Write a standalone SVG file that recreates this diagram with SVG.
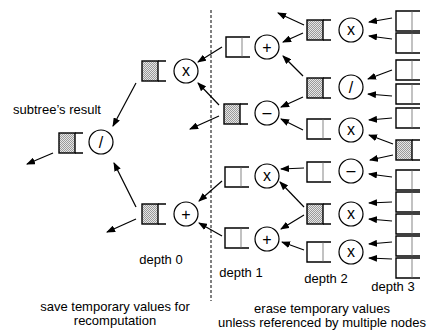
<svg xmlns="http://www.w3.org/2000/svg" xmlns:xlink="http://www.w3.org/1999/xlink" width="431" height="331" viewBox="0 0 431 331">
<style>
.t{font-family:"Liberation Sans",Arial,sans-serif;font-size:13px;fill:#000;text-anchor:middle}
.op{font-family:"Liberation Sans",Arial,sans-serif;font-size:16px;fill:#000;text-anchor:middle}
.c{fill:#fff;stroke:#000;stroke-width:1.2}
.ed{fill:none;stroke:#000;stroke-width:1.4}
.dv{stroke:#999;stroke-width:1.2}
.fl{fill:url(#stip);stroke:#000;stroke-width:1.4}
#conn line{stroke:#000;stroke-width:1.2;marker-end:url(#ah)}
</style>
<defs>
<pattern id="stip" width="2" height="2" patternUnits="userSpaceOnUse">
<rect width="2" height="2" fill="#e6e6e6"/>
<rect width="1" height="1" fill="#9a9a9a"/>
<rect x="1" y="1" width="1" height="1" fill="#9a9a9a"/>
</pattern>
<marker id="ah" markerWidth="9" markerHeight="7" refX="8" refY="3.5" orient="auto" markerUnits="userSpaceOnUse">
<path d="M0,0 L9,3.5 L0,7 z" fill="#000"/>
</marker>
<g id="bE"><path class="ed" d="M24,0 H0 V20 H24"/><line class="dv" x1="16" y1="0.7" x2="16" y2="19.3"/></g>
<g id="bF"><rect class="fl" x="0" y="0" width="16" height="20"/><path class="ed" d="M16,0 H24 M16,20 H24"/></g>
</defs>
<rect width="431" height="331" fill="#fff"/>
<line x1="211" y1="10" x2="211" y2="301" stroke="#000" stroke-width="1" stroke-dasharray="3,2"/>

<g id="conn">
<line x1="53" y1="153" x2="27" y2="164"/>
<line x1="136" y1="83" x2="113" y2="126"/>
<line x1="136" y1="207" x2="114" y2="163"/>
<line x1="136" y1="219" x2="107" y2="232"/>
<line x1="222" y1="47" x2="198" y2="62"/>
<line x1="219" y1="105" x2="198" y2="83"/>
<line x1="219" y1="116" x2="190" y2="129"/>
<line x1="222" y1="181" x2="199" y2="201"/>
<line x1="222" y1="236" x2="199" y2="223"/>
<line x1="304" y1="25" x2="278" y2="13"/>
<line x1="303" y1="33" x2="283" y2="42"/>
<line x1="303" y1="76" x2="283" y2="56"/>
<line x1="303" y1="97" x2="281" y2="107"/>
<line x1="303" y1="130" x2="281" y2="119"/>
<line x1="304" y1="168" x2="281" y2="169"/>
<line x1="304" y1="207" x2="280" y2="182"/>
<line x1="304" y1="215" x2="281" y2="229"/>
<line x1="304" y1="250" x2="282" y2="242"/>
<line x1="392" y1="18" x2="369" y2="22"/>
<line x1="392" y1="39" x2="369" y2="36"/>
<line x1="392" y1="70" x2="368" y2="79"/>
<line x1="392" y1="96" x2="368" y2="94"/>
<line x1="392" y1="118" x2="369" y2="120"/>
<line x1="393" y1="144" x2="369" y2="135"/>
<line x1="393" y1="155" x2="370" y2="160"/>
<line x1="392" y1="177" x2="369" y2="174"/>
<line x1="392" y1="202" x2="369" y2="203"/>
<line x1="392" y1="221" x2="369" y2="219"/>
<line x1="392" y1="242" x2="369" y2="244"/>
<line x1="392" y1="259" x2="369" y2="258"/>
</g>

<g id="d0-div"><use xlink:href="#bF" x="59" y="133"/><circle class="c" cx="101" cy="142" r="12"/><text class="op" x="101" y="148">/</text></g>
<g id="d0-mul"><use xlink:href="#bF" x="142" y="61"/><circle class="c" cx="186" cy="71" r="12"/><text class="op" x="186" y="76">x</text></g>
<g id="d0-add"><use xlink:href="#bF" x="142" y="204"/><circle class="c" cx="186" cy="214" r="12"/><text class="op" x="186" y="219.5">+</text></g>

<g id="d1-add1"><use xlink:href="#bE" x="226" y="37"/><circle class="c" cx="267" cy="47" r="12"/><text class="op" x="267" y="52.5">+</text></g>
<g id="d1-sub"><use xlink:href="#bF" x="224" y="104"/><circle class="c" cx="267" cy="113" r="12"/><text class="op" x="267" y="118">–</text></g>
<g id="d1-mul"><use xlink:href="#bE" x="225" y="167"/><circle class="c" cx="267" cy="176" r="12"/><text class="op" x="267" y="181">x</text></g>
<g id="d1-add2"><use xlink:href="#bE" x="225" y="228"/><circle class="c" cx="267" cy="239" r="12"/><text class="op" x="267" y="244.5">+</text></g>

<g id="d2-mul1"><use xlink:href="#bF" x="307" y="20"/><circle class="c" cx="351" cy="30" r="12"/><text class="op" x="351" y="35">x</text></g>
<g id="d2-div"><use xlink:href="#bF" x="307" y="78"/><circle class="c" cx="351" cy="87" r="12"/><text class="op" x="351" y="93">/</text></g>
<g id="d2-mul2"><use xlink:href="#bE" x="307" y="119"/><circle class="c" cx="351" cy="130" r="12"/><text class="op" x="351" y="135">x</text></g>
<g id="d2-sub"><use xlink:href="#bE" x="307" y="162"/><circle class="c" cx="351" cy="171" r="12"/><text class="op" x="351" y="176">–</text></g>
<g id="d2-mul3"><use xlink:href="#bF" x="307" y="204"/><circle class="c" cx="351" cy="214" r="12"/><text class="op" x="351" y="219">x</text></g>
<g id="d2-mul4"><use xlink:href="#bE" x="307" y="242"/><circle class="c" cx="351" cy="252" r="12"/><text class="op" x="351" y="257">x</text></g>

<g id="d3-1"><use xlink:href="#bE" x="396" y="11"/></g>
<g id="d3-2"><use xlink:href="#bE" x="396" y="33"/></g>
<g id="d3-3"><use xlink:href="#bE" x="396" y="60"/></g>
<g id="d3-4"><use xlink:href="#bE" x="396" y="84"/></g>
<g id="d3-5"><use xlink:href="#bE" x="396" y="108"/></g>
<g id="d3-6"><use xlink:href="#bF" x="396" y="140"/></g>
<g id="d3-7"><use xlink:href="#bE" x="396" y="170"/></g>
<g id="d3-8"><use xlink:href="#bE" x="396" y="192"/></g>
<g id="d3-9"><use xlink:href="#bE" x="396" y="214"/></g>
<g id="d3-10"><use xlink:href="#bE" x="396" y="236"/></g>
<g id="d3-11"><use xlink:href="#bE" x="396" y="258"/></g>

<g id="labels">
<text class="t" x="57" y="114">subtree’s result</text>
<text class="t" x="161" y="264">depth 0</text>
<text class="t" x="241" y="277">depth 1</text>
<text class="t" x="326" y="283">depth 2</text>
<text class="t" x="393" y="291">depth 3</text>
<text class="t" x="115" y="311">save temporary values for</text>
<text class="t" x="115" y="325">recomputation</text>
<text class="t" x="322" y="313">erase temporary values</text>
<text class="t" x="322" y="327">unless referenced by multiple nodes</text>
</g>
</svg>
